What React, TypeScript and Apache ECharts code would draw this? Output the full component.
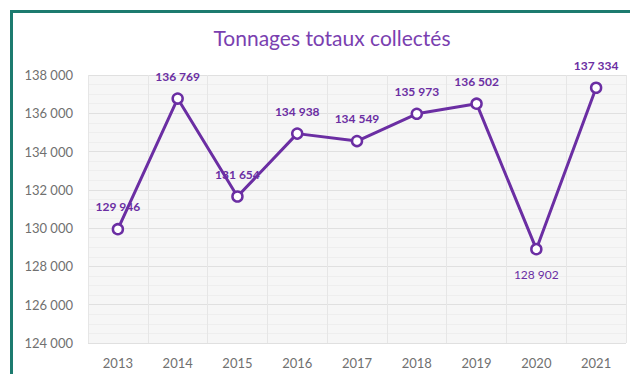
import React, { useEffect, useRef } from "react";
import * as echarts from "echarts";

const years = ["2013", "2014", "2015", "2016", "2017", "2018", "2019", "2020", "2021"];
const tonnages = [129946, 136769, 131654, 134938, 134549, 135973, 136502, 128902, 137334];
const labelBelow = [false, false, false, false, false, false, false, true, false];

const fmt = (v: number) => String(v).replace(/\B(?=(\d{3})+(?!\d))/g, " ");

export default function App() {
  const ref = useRef<HTMLDivElement>(null);
  useEffect(() => {
    if (!ref.current) return;
    const chart = echarts.init(ref.current, undefined, { renderer: "svg" });
    const purple = "#6b2ea3";
    chart.setOption({
      animation: false,
      backgroundColor: "#ffffff",
      title: {
        text: "Tonnages totaux collectés",
        left: 327,
        textAlign: "center",
        top: 22,
        textStyle: { color: "#7a3fb0", fontFamily: "Lato", fontWeight: "normal", fontSize: 21 },
      },
      graphic: [
        {
          type: "polyline",
          shape: { points: [[11.5, 374], [11.5, 11.5], [630, 11.5]] },
          style: { stroke: "#1c7b6f", lineWidth: 3, fill: "none" },
          z: 100,
        },
      ],
      grid: {
        left: 88,
        right: 4,
        top: 75,
        bottom: 31,
        show: true,
        backgroundColor: "#f6f6f6",
        borderWidth: 0,
      },
      xAxis: {
        type: "category",
        data: years,
        boundaryGap: true,
        axisLine: { show: false },
        axisTick: { show: false },
        axisLabel: { color: "#707070", fontFamily: "Lato", fontSize: 13, margin: 13 },
        splitLine: { show: true, lineStyle: { color: "#e6e6e6", width: 1 } },
      },
      yAxis: {
        type: "value",
        min: 124000,
        max: 138000,
        interval: 2000,
        axisLine: { show: false },
        axisTick: { show: false },
        axisLabel: {
          color: "#707070",
          fontFamily: "Lato",
          fontSize: 13,
          margin: 15,
          formatter: (v: number) => fmt(v),
        },
        splitLine: { show: true, lineStyle: { color: "#e0e0e0", width: 1 } },
        minorTick: { show: false, splitNumber: 4 },
        minorSplitLine: { show: true, lineStyle: { color: "#eeeeee", width: 1 } },
      },
      series: [
        {
          type: "line",
          data: tonnages.map((v, i) => ({
            value: v,
            label: {
              position: labelBelow[i] ? "bottom" : "top",
              distance: labelBelow[i] ? 13 : 10,
              fontWeight: labelBelow[i] ? "normal" : "bold",
            },
          })),
          lineStyle: { color: purple, width: 3 },
          itemStyle: { color: "#ffffff", borderColor: purple, borderWidth: 2.5 },
          symbol: "circle",
          symbolSize: 10,
          label: {
            show: true,
            color: purple,
            fontFamily: "Lato",
            fontSize: 12,
            fontWeight: "bold",
            formatter: (p: any) => fmt(p.value),
          },
        },
      ],
    });
    return () => chart.dispose();
  }, []);
  return (
    <div
      ref={ref}
      style={{ position: "absolute", left: 0, top: 0, width: 630, height: 374 }}
    />
  );
}
